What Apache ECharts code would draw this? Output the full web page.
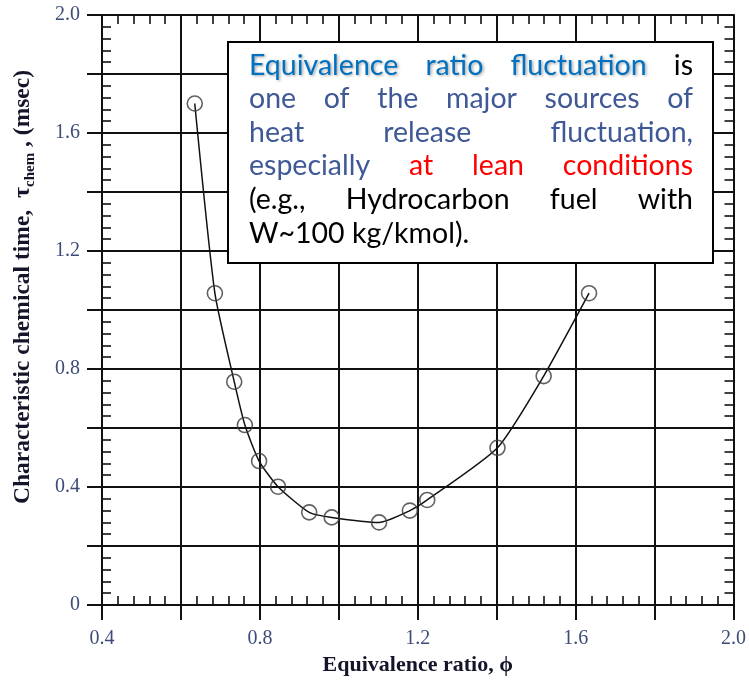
<!DOCTYPE html>
<html>
<head>
<meta charset="utf-8">
<script src="https://cdn.jsdelivr.net/npm/echarts@6/dist/echarts.min.js"></script>
<style>
html,body{margin:0;padding:0;background:#fff;}
#c{width:749px;height:685px;}
</style>
</head>
<body>
<div id="c"></div>
<script>
// ---- data ----
const phi = [0.635, 0.686, 0.735, 0.762, 0.798, 0.846, 0.925, 0.982, 1.102, 1.180, 1.224, 1.402, 1.519, 1.634];
const tau = [1.700, 1.057, 0.757, 0.610, 0.488, 0.401, 0.314, 0.297, 0.280, 0.320, 0.356, 0.533, 0.776, 1.057];
const xTickLabels = ['0.4', '0.8', '1.2', '1.6', '2.0'];
const yTickLabels = ['0', '0.4', '0.8', '1.2', '1.6', '2.0'];
const xTitle = 'Equivalence ratio, \u03d5';
const noteLines = [
  [['Equivalence', 'hl'], ['ratio', 'hl'], ['fluctuation', 'hl'], ['is', 'k']],
  [['one', 'b'], ['of', 'b'], ['the', 'b'], ['major', 'b'], ['sources', 'b'], ['of', 'b']],
  [['heat', 'b'], ['release', 'b'], ['fluctuation,', 'b']],
  [['especially', 'b'], ['at', 'r'], ['lean', 'r'], ['conditions', 'r']],
  [['(e.g.,', 'k'], ['Hydrocarbon', 'k'], ['fuel', 'k'], ['with', 'k']],
  [['W~100', 'k'], ['kg/kmol).', 'k']]
];

// ---- styles ----
const ink = '#111';
const labelColor = '#3d4c78';
const titleColor = '#15152a';
const serif = '"Liberation Serif", "DejaVu Serif", serif';
const noteFont = 'Lato';
const noteColors = { hl: '#0070C0', b: '#3F5896', r: '#FF0000', k: '#000000' };

function xFmt(v) {
  const k = Math.round(v * 10);
  const s = v.toFixed(1);
  return (k % 4 === 0 && xTickLabels.indexOf(s) >= 0) ? s : '';
}
function yFmt(v) {
  const k = Math.round(v * 10);
  const s = k === 0 ? '0' : v.toFixed(1);
  return (k % 4 === 0 && yTickLabels.indexOf(s) >= 0) ? s : '';
}

const minorAxis = (pos, showLine) => ({
  type: 'value', position: pos, min: pos === 'top' || pos === 'bottom' ? 0.4 : 0, max: 2.0, interval: 0.2,
  axisLine: { show: showLine, onZero: false, lineStyle: { color: ink, width: 2 } },
  axisTick: { show: false, inside: true },
  minorTick: { show: true, splitNumber: 5, length: 9, lineStyle: { color: ink, width: 1.6 } },
  axisLabel: { show: false },
  splitLine: { show: false }
});

// ---- justified note text ----
const box = { x: 228, y: 42, w: 485, h: 221 };
const textLeft = 249, textRight = 693, line0 = 65.5, lineStep = 33.6;
const cnv = document.createElement('canvas').getContext('2d');
function measure(t, size) { cnv.font = size + 'px ' + noteFont; return cnv.measureText(t).width; }
let fontSize = 28.5;
(function fit() {
  const avail = textRight - textLeft;
  while (fontSize > 18) {
    let ok = true;
    for (const line of noteLines) {
      const w = measure(line.map(s => s[0]).join(' '), fontSize);
      if (w > avail) { ok = false; break; }
    }
    if (ok) break;
    fontSize -= 0.5;
  }
})();
const noteEls = [{
  type: 'rect', shape: { x: box.x, y: box.y, width: box.w, height: box.h },
  style: { fill: '#fff', stroke: '#000', lineWidth: 2 }, z: 10
}];
noteLines.forEach((line, i) => {
  const widths = line.map(s => measure(s[0], fontSize));
  const total = widths.reduce((a, b) => a + b, 0);
  const last = i === noteLines.length - 1;
  const gap = last ? measure(' ', fontSize) : (textRight - textLeft - total) / (line.length - 1);
  let x = textLeft;
  line.forEach((s, j) => {
    const st = {
      text: s[0], x: x, y: line0 + lineStep * i, fill: noteColors[s[1]],
      font: fontSize + 'px ' + noteFont, align: 'left', verticalAlign: 'middle'
    };
    if (s[1] === 'hl') {
      st.textShadowColor = 'rgba(0,0,0,0.35)'; st.textShadowBlur = 3;
      st.textShadowOffsetX = 1.5; st.textShadowOffsetY = 1.5;
    }
    noteEls.push({ type: 'text', style: st, z: 11 });
    x += widths[j] + gap;
  });
});

const chart = echarts.init(document.getElementById('c'));
chart.setOption({
  animation: false,
  backgroundColor: '#fff',
  grid: { left: 102, right: 15, top: 15, bottom: 80, containLabel: false },
  xAxis: [
    {
      type: 'value', position: 'bottom', min: 0.4, max: 2.0, interval: 0.2,
      axisLine: { show: true, onZero: false, lineStyle: { color: ink, width: 2 } },
      axisTick: { show: true, inside: false, length: 15, lineStyle: { color: ink, width: 2 } },
      axisLabel: { margin: 24, formatter: xFmt, color: labelColor, fontFamily: serif, fontSize: 20 },
      splitLine: { show: true, lineStyle: { color: ink, width: 2 } },
      name: xTitle, nameLocation: 'middle', nameGap: 48,
      nameTextStyle: { color: titleColor, fontFamily: serif, fontWeight: 'bold', fontSize: 22 }
    },
    minorAxis('bottom', false),
    minorAxis('top', true)
  ],
  yAxis: [
    {
      type: 'value', position: 'left', min: 0, max: 2.0, interval: 0.2,
      axisLine: { show: true, onZero: false, lineStyle: { color: ink, width: 2 } },
      axisTick: { show: true, inside: false, length: 15, lineStyle: { color: ink, width: 2 } },
      axisLabel: { margin: 22, formatter: yFmt, color: labelColor, fontFamily: serif, fontSize: 20 },
      splitLine: { show: true, lineStyle: { color: ink, width: 2 } }
    },
    minorAxis('left', false),
    minorAxis('right', true)
  ],
  series: [
    {
      type: 'line', xAxisIndex: 0, yAxisIndex: 0,
      data: phi.map((p, i) => [p, tau[i]]),
      smooth: 0.2, showSymbol: false,
      lineStyle: { color: '#111', width: 1.5 }, z: 3
    },
    {
      type: 'scatter', xAxisIndex: 0, yAxisIndex: 0,
      data: phi.map((p, i) => [p, tau[i]]),
      symbol: 'circle', symbolSize: 15,
      itemStyle: { color: 'rgba(0,0,0,0)', borderColor: '#3a3a3a', borderWidth: 1.6 }, z: 4
    }
  ],
  graphic: [
    {
      type: 'text', x: 23, y: 287, rotation: Math.PI / 2, z: 5,
      style: {
        text: '{a|Characteristic chemical time,  }{t|\u03c4}{s|chem}{a| , (msec)}',
        align: 'center', verticalAlign: 'middle',
        rich: {
          a: { fontFamily: serif, fontWeight: 'bold', fontSize: 23.5, fill: titleColor, lineHeight: 30 },
          t: { fontFamily: serif, fontWeight: 'bold', fontSize: 24, fill: titleColor, lineHeight: 30 },
          s: { fontFamily: serif, fontWeight: 'bold', fontSize: 15, fill: titleColor, lineHeight: 30, verticalAlign: 'bottom', padding: [10, 0, 0, 0] }
        }
      }
    },
    { type: 'group', children: noteEls }
  ]
});
</script>
</body>
</html>
